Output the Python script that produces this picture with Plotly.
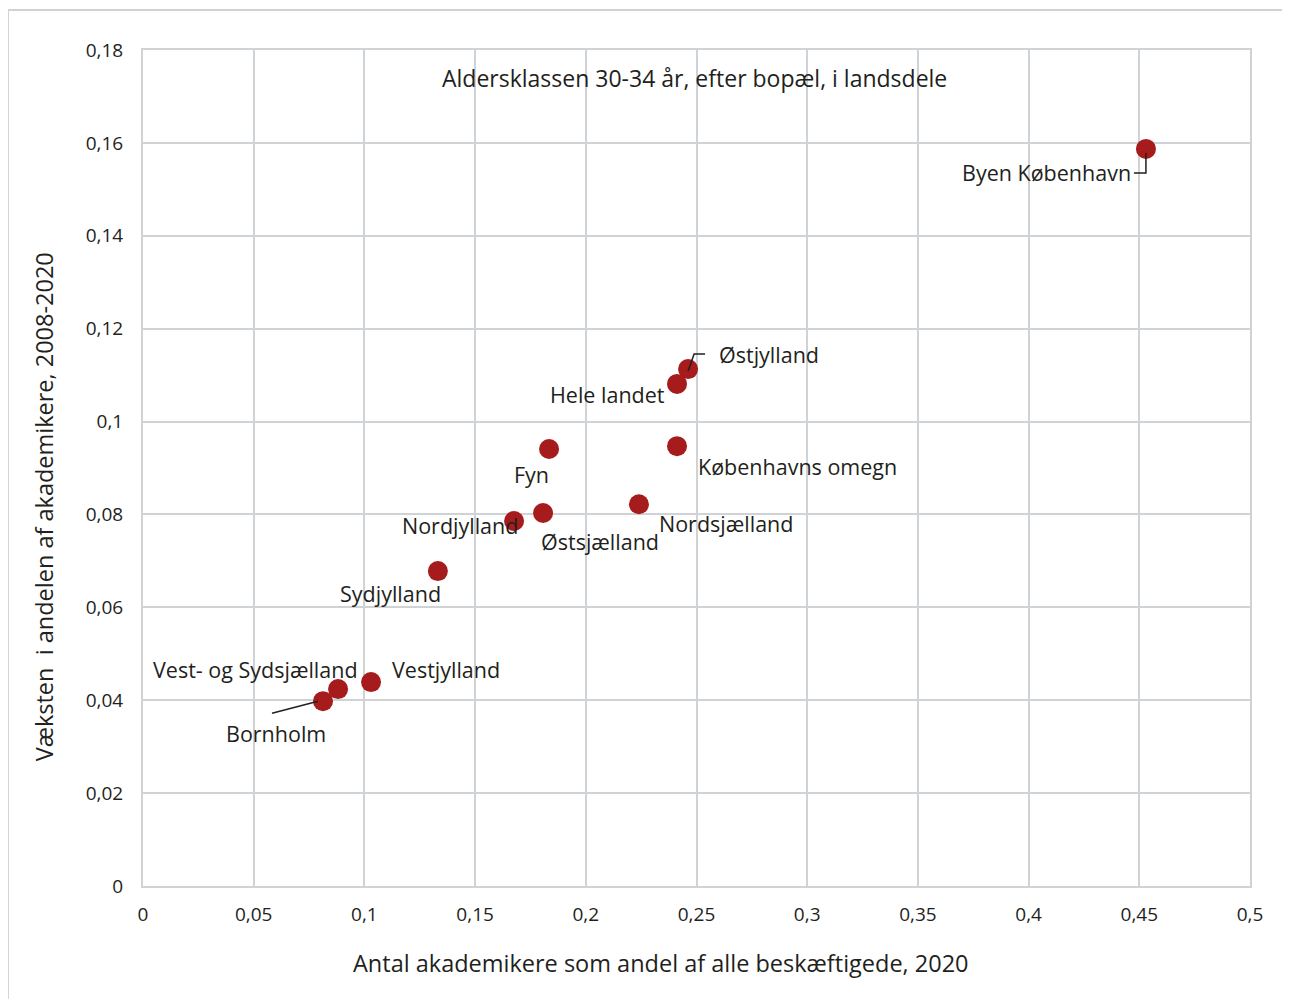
import plotly.graph_objects as go

regions = ['Byen København', 'Østjylland', 'Hele landet', 'Københavns omegn', 'Fyn',
           'Nordsjælland', 'Østsjælland', 'Nordjylland', 'Sydjylland', 'Vestjylland',
           'Vest- og Sydsjælland', 'Bornholm']
share_2020 = [0.4530, 0.2462, 0.2412, 0.2412, 0.1834, 0.2240, 0.1807, 0.1676, 0.1332,
              0.1030, 0.0881, 0.0813]
growth = [0.1587, 0.1113, 0.1081, 0.0947, 0.0941, 0.0822, 0.0803, 0.0786, 0.0678,
          0.0439, 0.0424, 0.0398]

# label offsets in pixels (x right, y up) from each point
label_dx = [-99, 81, -70, 120, -18, 87, 57, -54, -47, 75, -83, -47]
label_dy = [-24, 15, -11, -20, -26, -19, -28, -5, -22, 13, 20, -32]

font = 'Open Sans'
grid = '#d0d3d6'
red = '#a61b1b'
ink = '#231f20'

fig = go.Figure(go.Scatter(
    x=share_2020, y=growth, mode='markers',
    marker=dict(size=20, color=red),
    hoverinfo='skip'
))

for name, x, y, dx, dy in zip(regions, share_2020, growth, label_dx, label_dy):
    fig.add_annotation(x=x, y=y, text=name, showarrow=False, xshift=dx, yshift=dy,
                       font=dict(family=font, size=21.5, color=ink))

# leader lines (pixel paths anchored on the point)
leaders = {0: 'M0,-4 L0,-24 L-12,-24', 1: 'M0,-2 L6,15 L17,15', 11: 'M-5,0 L-51,-12'}
for i, path in leaders.items():
    fig.add_shape(type='path', xref='x', yref='y', xsizemode='pixel', ysizemode='pixel',
                  xanchor=share_2020[i], yanchor=growth[i], path=path,
                  line=dict(color=ink, width=1.5), layer='above')

fig.add_annotation(x=0.4986, y=0.9665, xref='paper', yref='paper', showarrow=False,
                   xanchor='center', yanchor='middle',
                   text='Aldersklassen 30-34 år, efter bopæl, i landsdele',
                   font=dict(family=font, size=23, color=ink))

# axis titles
fig.add_annotation(x=0.468, y=-0.0921, xref='paper', yref='paper', showarrow=False,
                   xanchor='center', yanchor='middle',
                   text='Antal akademikere som andel af alle beskæftigede, 2020',
                   font=dict(family=font, size=23.5, color=ink))
fig.add_annotation(x=-0.0894, y=0.453, xref='paper', yref='paper', showarrow=False,
                   xanchor='center', yanchor='middle', textangle=-90,
                   text='Væksten\u00a0 i andelen af akademikere, 2008-2020',
                   font=dict(family=font, size=23.5, color=ink))

# outer frame
fig.add_shape(type='rect', xref='paper', yref='paper', x0=-0.122, x1=1.06, y0=-0.2, y1=1.0478,
              line=dict(color=grid, width=2), layer='below')

fig.update_layout(
    width=1282, height=991,
    margin=dict(l=135, r=40, t=42, b=113),
    paper_bgcolor='white', plot_bgcolor='white',
    separators=',.',
    showlegend=False,
    font=dict(family=font, size=19, color=ink),
    xaxis=dict(range=[0, 0.5], dtick=0.05, tick0=0, showgrid=True, gridcolor=grid, gridwidth=2,
               showline=True, linecolor=grid, linewidth=2, mirror=True, zeroline=False,
               ticks='', ticklabelstandoff=10),
    yaxis=dict(range=[0, 0.18], dtick=0.02, tick0=0, showgrid=True, gridcolor=grid, gridwidth=2,
               showline=True, linecolor=grid, linewidth=2, mirror=True, zeroline=False,
               ticks='', ticklabelstandoff=14),
)

fig.write_html('out.html')
